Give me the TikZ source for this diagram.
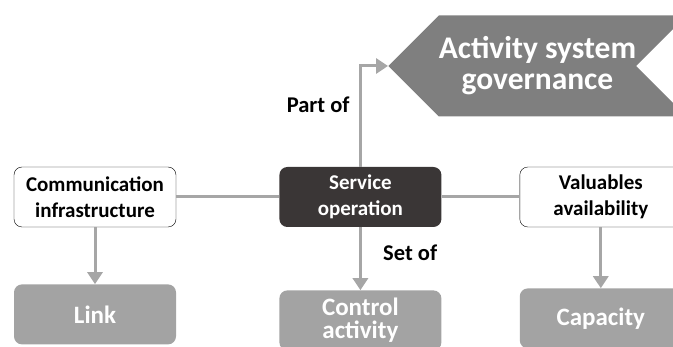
\documentclass[tikz,border=0pt]{standalone}
\usepackage{fontspec}
\setmainfont{Carlito}
\usetikzlibrary{arrows.meta,positioning,shapes.symbols}
\definecolor{lnk}{HTML}{A6A6A6}
\definecolor{dk}{HTML}{3A3636}
\definecolor{mid}{HTML}{A3A3A3}
\definecolor{gov}{HTML}{7F7F7F}

\begin{document}
\begin{tikzpicture}[x=1pt,y=1pt,
    box/.style={rounded corners=8pt,minimum height=60pt,minimum width=162pt,inner sep=2pt,
      font=\fontsize{21}{26}\selectfont\bfseries,align=center},
    plain/.style={box,draw=black,fill=white},
    sub/.style={box,fill=mid,text=white,font=\fontsize{25}{23}\selectfont\bfseries},
    conn/.style={draw=lnk,line width=3pt},
    >={Triangle[width=15pt,length=12pt]},
    lbl/.style={font=\fontsize{22.5}{26}\selectfont\bfseries},
    node distance=57pt and 103pt]
    \useasboundingbox (0,0) rectangle (673,-347);
    \node[plain] (comm) at (95,-197) {Communication\\infrastructure};
    \node[box,fill=dk,text=white,right=of comm] (serv) {Service\\operation};
    \node[plain,right=78pt of serv] (val) {Valuables\\availability};
    \node[sub,below=of comm] (link) {Link};
    \node[sub,below=63pt of serv] (ctrl) {Control\\activity};
    \node[sub,below=61pt of val] (cap) {Capacity};
    \node[signal,signal to=west,signal from=east,signal pointer angle=90,fill=gov,text=white,
      minimum height=101pt,minimum width=295pt,inner sep=0pt,anchor=west,
      font=\fontsize{31.5}{31}\selectfont\bfseries,align=center] (gov) at (388,-66) {Activity system\\governance};
    \draw[conn] (comm) -- (serv); \draw[conn] (serv) -- (val);
    \draw[conn,->] (comm) -- (link); \draw[conn,->] (val) -- (cap);
    \draw[conn,->] (serv) -- node[lbl,pos=0.4,right=18pt,text=black] {Set of} (ctrl);
    \draw[conn,->] (serv.north) |- node[lbl,pos=0.31,left=6pt,text=black] {Part of} (gov.west);
  \end{tikzpicture}
\end{document}
